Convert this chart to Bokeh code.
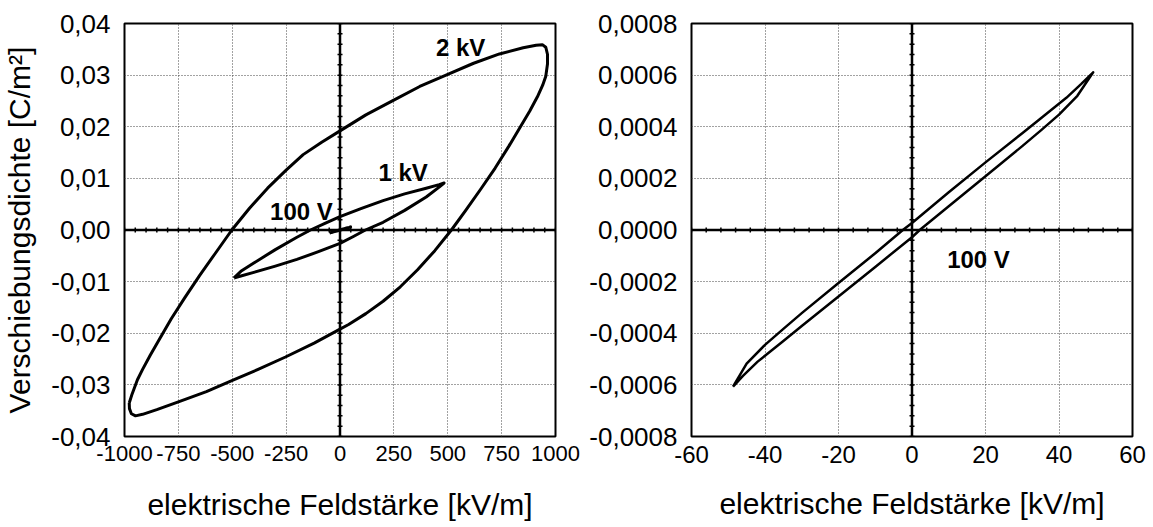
import numpy as np
from bokeh.plotting import figure
from bokeh.layouts import row
from bokeh.models import FixedTicker, CustomJSTickFormatter, Span, ColumnDataSource, Range1d
from bokeh.core.properties import value
from bokeh.embed import file_html
from bokeh.resources import INLINE

FONT = "Liberation Sans"

# ---- hysteresis loops: field strength E [kV/m], displacement density D [C/m²] ----
# 2 kV: rising branch, then falling branch (closed path)
e_2kv = [-978, -965, -940, -916, -880, -840, -783, -720, -651, -580, -502, -420, -336,
         -250, -171, -85, 0, 120, 243, 370, 492, 620, 740, 850, 910, 939,
         955, 963, 963, 955, 940, 916, 880, 840, 783, 720, 651, 580, 517, 440, 360, 280,
         200, 120, 40, 0, -120, -253, -380, -502, -620, -750, -850, -916, -949, -968,
         -977, -978]
d_2kv = [-0.0335, -0.0318, -0.0290, -0.0270, -0.0242, -0.0213, -0.0172, -0.0131, -0.0088,
         -0.0046, 0.0000, 0.0042, 0.0081, 0.0116, 0.0146, 0.0170, 0.0192, 0.0223, 0.0250,
         0.0278, 0.0300, 0.0323, 0.0341, 0.0353, 0.0358, 0.0359,
         0.0354, 0.0340, 0.0322, 0.0298, 0.0280, 0.0258, 0.0230, 0.0202, 0.0162, 0.0120,
         0.0078, 0.0036, 0.0000, -0.0040, -0.0077, -0.0110, -0.0138, -0.0162, -0.0183,
         -0.0192, -0.0219, -0.0246, -0.0270, -0.0292, -0.0313, -0.0333, -0.0348, -0.0357,
         -0.0360, -0.0356, -0.0346, -0.0335]

# 1 kV
e_1kv = [-493, -460, -400, -300, -200, -137, -70, 0, 100, 200, 300, 400, 460, 483,
         460, 400, 300, 200, 118, 60, 0, -100, -200, -300, -400, -460, -493]
d_1kv = [-0.0093, -0.0080, -0.0064, -0.0038, -0.0014, 0.0000, 0.0013, 0.0026, 0.0042,
         0.0057, 0.0070, 0.0081, 0.0088, 0.0091,
         0.0083, 0.0064, 0.0038, 0.0015, 0.0000, -0.0013, -0.0026, -0.0042, -0.0057,
         -0.0070, -0.0082, -0.0089, -0.0093]

# 100 V
e_100v = [-48.7, -46, -42, -35, -30, -20, -10, 0, 2.1, 10, 20, 30, 35, 40, 45, 49.3,
          46, 42, 35, 30, 20, 10, 0, -2.5, -10, -20, -30, -35, -40, -45, -48.7]
d_100v = [-0.000607, -0.000565, -0.000510, -0.000430, -0.000372, -0.000258, -0.000143,
          -0.000028, 0.0, 0.000092, 0.000208, 0.000325, 0.000385, 0.000447, 0.000520,
          0.000611,
          0.000565, 0.000512, 0.000432, 0.000375, 0.000262, 0.000146, 0.000027, 0.0,
          -0.000090, -0.000205, -0.000322, -0.000383, -0.000445, -0.000518, -0.000607]

# curve labels
lab_left_text = ["2 kV", "1 kV", "100 V"]
lab_left_x = [560, 293, -179]
lab_left_y = [0.0353, 0.0111, 0.0036]
lab_right_text = ["100 V"]
lab_right_x = [18.1]
lab_right_y = [-0.000113]

# axis ticks
x_ticks_left = [-1000, -750, -500, -250, 0, 250, 500, 750, 1000]
y_ticks_left = [-0.04, -0.03, -0.02, -0.01, 0.0, 0.01, 0.02, 0.03, 0.04]
x_ticks_right = [-60, -40, -20, 0, 20, 40, 60]
y_ticks_right = [-0.0008, -0.0006, -0.0004, -0.0002, 0.0, 0.0002, 0.0004, 0.0006, 0.0008]

X_TITLE = "elektrische Feldstärke [kV/m]"
Y_TITLE = "Verschiebungsdichte [C/m²]"


def panel(xt, yt, xdec, ydec, border_left, border_right, frame_w, y_title,
          xfont, xtitle_standoff):
    p = figure(frame_width=frame_w, frame_height=413,
               width=border_left + frame_w + border_right, height=527,
               x_range=Range1d(xt[0], xt[-1]), y_range=Range1d(yt[0], yt[-1]),
               output_backend="svg", toolbar_location=None,
               min_border_left=border_left, min_border_right=border_right,
               min_border_top=23, min_border_bottom=91,
               background_fill_color="white", border_fill_color="white")
    p.outline_line_color = "black"
    p.outline_line_width = 2
    p.outline_line_alpha = 1

    for ax, ticks, dec in ((p.xaxis[0], xt, xdec), (p.yaxis[0], yt, ydec)):
        ax.ticker = FixedTicker(ticks=ticks)
        ax.formatter = CustomJSTickFormatter(
            code="return tick.toFixed(%d).replace('.', ',');" % dec)
        ax.axis_line_color = None
        ax.major_tick_in = 0
        ax.major_tick_out = 0
        ax.minor_tick_in = 0
        ax.minor_tick_out = 0
        ax.major_label_text_color = "black"
        ax.major_label_text_font = FONT
        ax.axis_label_text_font = FONT
        ax.axis_label_text_font_size = "30px"
        ax.axis_label_text_font_style = "normal"
        ax.axis_label_text_color = "black"
    p.xaxis.major_label_text_font_size = xfont
    p.yaxis.major_label_text_font_size = "26px"
    p.xaxis.major_label_standoff = 9
    p.yaxis.major_label_standoff = 14
    p.xaxis.axis_label = X_TITLE
    p.xaxis.axis_label_standoff = xtitle_standoff
    if y_title:
        p.yaxis.axis_label = y_title
        p.yaxis.axis_label_standoff = 12

    p.xgrid.ticker = FixedTicker(ticks=xt)
    p.ygrid.ticker = FixedTicker(ticks=yt)
    for g in (p.xgrid, p.ygrid):
        g.grid_line_color = "#444444"
        g.grid_line_dash = "1 2"
        g.grid_line_width = 1

    # zero axes with small ticks (5 per major interval)
    p.add_layout(Span(location=0, dimension="width", line_color="black", line_width=2.5))
    p.add_layout(Span(location=0, dimension="height", line_color="black", line_width=2.5))
    xm = np.linspace(xt[0], xt[-1], (len(xt) - 1) * 5 + 1)
    ym = np.linspace(yt[0], yt[-1], (len(yt) - 1) * 5 + 1)
    p.scatter(x=xm, y=np.zeros_like(xm), marker="dash", angle=np.pi / 2, size=5,
              line_color="black", line_width=1.5)
    p.scatter(x=np.zeros_like(ym), y=ym, marker="dash", size=5,
              line_color="black", line_width=1.5)
    return p


left = panel(x_ticks_left, y_ticks_left, 0, 2, 124, 30, 431, Y_TITLE, "22px", 24)
for ex, dy in ((e_2kv, d_2kv), (e_1kv, d_1kv), (e_100v, d_100v)):
    left.line(ex, dy, line_color="black", line_width=3, line_join="round")
left.text(x="x", y="y", text="t",
          source=ColumnDataSource(dict(x=lab_left_x, y=lab_left_y, t=lab_left_text)),
          text_font=value(FONT), text_font_style="bold", text_font_size="24px",
          text_align="center", text_baseline="middle", text_color="black")

right = panel(x_ticks_right, y_ticks_right, 0, 4, 106, 21, 441, None, "24px", 21)
right.line(e_100v, d_100v, line_color="black", line_width=2.5, line_join="round")
right.text(x="x", y="y", text="t",
           source=ColumnDataSource(dict(x=lab_right_x, y=lab_right_y, t=lab_right_text)),
           text_font=value(FONT), text_font_style="bold", text_font_size="24px",
           text_align="center", text_baseline="middle", text_color="black")

layout = row(left, right, spacing=0)
with open("out.html", "w") as f:
    f.write(file_html(layout, INLINE))
